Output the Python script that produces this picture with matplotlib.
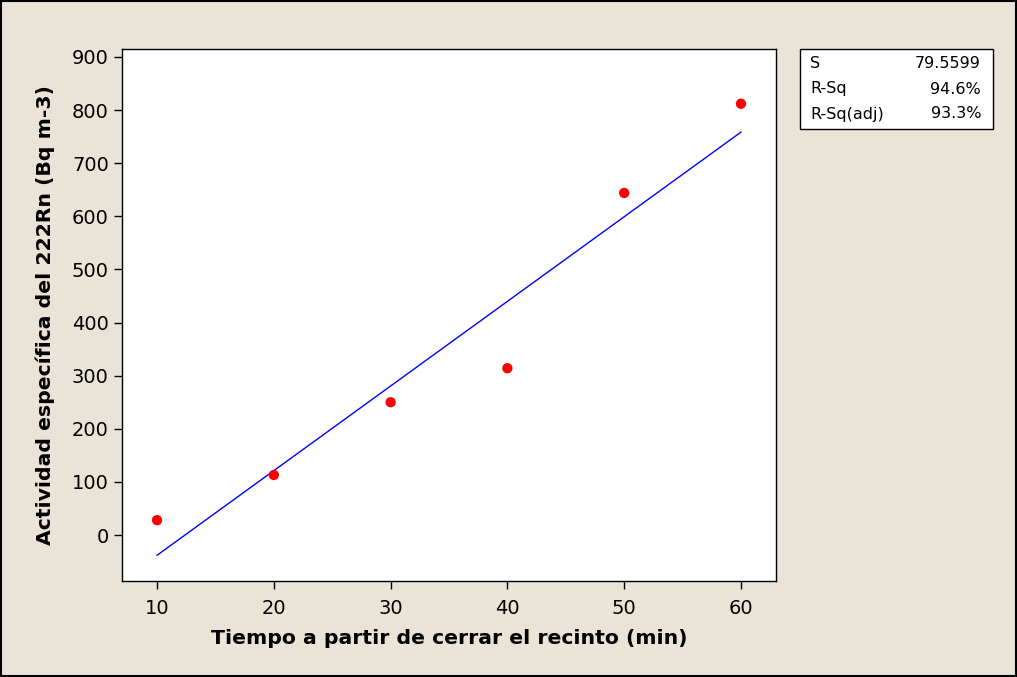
import matplotlib.pyplot as plt
import numpy as np
from matplotlib.patches import Rectangle

# Data
tiempo = np.array([10, 20, 30, 40, 50, 60])
actividad = np.array([28, 113, 250, 314, 644, 812])

stat_labels = ["S", "R-Sq", "R-Sq(adj)"]
stat_values = ["79.5599", "94.6%", "93.3%"]

xticks = [10, 20, 30, 40, 50, 60]
yticks = [0, 100, 200, 300, 400, 500, 600, 700, 800, 900]

bg = '#EAE4D8'

fig = plt.figure(figsize=(10.17, 6.77), dpi=100, facecolor=bg)
ax = fig.add_axes([122 / 1017, 1 - 581 / 677, (776 - 122) / 1017, (581 - 49) / 677])

# regression line
slope, intercept = np.polyfit(tiempo, actividad, 1)
xf = np.array([tiempo.min(), tiempo.max()])
ax.plot(xf, slope * xf + intercept, color='blue', linewidth=1)

ax.scatter(tiempo, actividad, color='red', s=55, zorder=3, edgecolors='none')

ax.set_xlim(7.0, 63.0)
ax.set_ylim(-86.6, 915)
ax.set_xticks(xticks)
ax.set_yticks(yticks)
ax.tick_params(labelsize=14, length=6, width=1, direction='out')
ax.tick_params(axis='x', pad=7)
for s in ax.spines.values():
    s.set_linewidth(1)

ax.set_xlabel("Tiempo a partir de cerrar el recinto (min)", fontsize=14.7,
              fontweight='bold', labelpad=8)
ax.set_ylabel("Actividad específica del 222Rn (Bq m-3)", fontsize=14.7,
              fontweight='bold', labelpad=12)

# stats box
bx0, by0, bw, bh = 800 / 1017, 1 - 129 / 677, 193 / 1017, 80 / 677
fig.patches.append(Rectangle((bx0, by0), bw, bh, transform=fig.transFigure,
                             facecolor='white', edgecolor='black', linewidth=1))
for i, (lab, val) in enumerate(zip(stat_labels, stat_values)):
    yy = 1 - (64 + i * 25) / 677
    fig.text(810 / 1017, yy, lab, fontsize=11.5, va='center', ha='left')
    fig.text(981 / 1017, yy, val, fontsize=11.5, va='center', ha='right')

# outer border
fig.patches.append(Rectangle((0.001, 0.001), 0.998, 0.998, transform=fig.transFigure,
                             facecolor='none', edgecolor='black', linewidth=1.5))

fig.savefig('out.png', dpi=100, facecolor=bg)
